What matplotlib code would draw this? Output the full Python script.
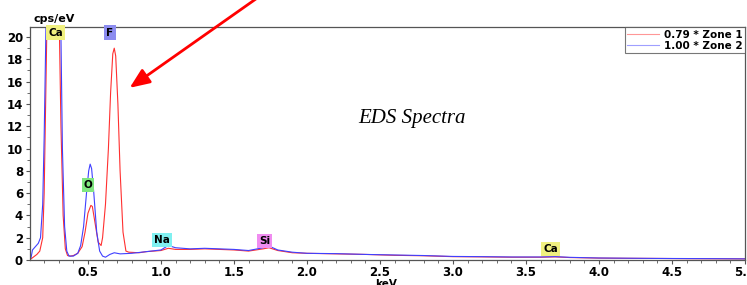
import numpy as np
import matplotlib.pyplot as plt
from matplotlib.ticker import MultipleLocator

# spectrum values (keV, cps/eV)
zone1_kev = [0.11, 0.13, 0.15, 0.17, 0.19, 0.20, 0.21, 0.22, 0.24, 0.27, 0.29, 0.305, 0.315,
             0.33, 0.345, 0.36, 0.38, 0.40, 0.43, 0.46, 0.48, 0.50, 0.52, 0.53, 0.55, 0.57,
             0.59, 0.60, 0.62, 0.64, 0.655, 0.67, 0.68, 0.69, 0.705, 0.72, 0.74, 0.76, 0.78,
             0.85, 0.90, 1.00, 1.05, 1.10, 1.20, 1.30, 1.40, 1.50, 1.60, 1.70, 1.74, 1.80,
             1.90, 2.00, 2.20, 2.40, 2.60, 2.80, 3.00, 3.20, 3.40, 3.60, 3.70, 3.80, 4.00,
             4.20, 4.40, 4.60, 4.80, 5.00]
zone1_cps = [0.1, 0.3, 0.5, 0.8, 2.0, 6.0, 14.0, 22.0, 28.0, 30.0, 26.0, 20.0, 12.0,
             4.0, 1.0, 0.4, 0.35, 0.4, 0.6, 1.2, 2.5, 4.2, 4.9, 4.8, 3.2, 1.6,
             1.3, 2.0, 5.0, 10.0, 15.0, 18.5, 19.0, 18.3, 14.0, 8.0, 2.5, 0.8, 0.7,
             0.65, 0.75, 0.85, 1.05, 0.95, 0.95, 1.0, 0.95, 0.9, 0.8, 1.0, 1.1, 0.85,
             0.65, 0.6, 0.55, 0.5, 0.42, 0.38, 0.3, 0.28, 0.25, 0.25, 0.28, 0.22, 0.17,
             0.15, 0.14, 0.12, 0.11, 0.1]

zone2_kev = [0.11, 0.12, 0.14, 0.16, 0.175, 0.19, 0.20, 0.21, 0.215, 0.24, 0.27, 0.30,
             0.315, 0.325, 0.34, 0.355, 0.37, 0.40, 0.43, 0.45, 0.47, 0.49, 0.505, 0.515,
             0.525, 0.54, 0.56, 0.58, 0.60, 0.62, 0.65, 0.68, 0.72, 0.80, 0.90, 1.00, 1.05,
             1.10, 1.20, 1.30, 1.40, 1.50, 1.60, 1.70, 1.74, 1.80, 1.90, 2.00, 2.20, 2.40,
             2.60, 2.80, 3.00, 3.20, 3.40, 3.60, 3.70, 3.80, 4.00, 4.20, 4.40, 4.60, 4.80,
             5.00]
zone2_cps = [0.2, 0.9, 1.2, 1.5, 2.0, 5.0, 11.0, 19.0, 24.0, 30.0, 30.0, 26.0,
             20.0, 10.0, 3.0, 0.8, 0.35, 0.35, 0.6, 1.3, 3.0, 6.0, 8.0, 8.6,
             8.2, 6.0, 2.5, 0.8, 0.35, 0.25, 0.5, 0.65, 0.55, 0.6, 0.75, 0.9, 1.3,
             1.1, 1.0, 1.05, 1.0, 0.95, 0.85, 1.1, 1.25, 0.9, 0.7, 0.6, 0.57, 0.5,
             0.45, 0.4, 0.32, 0.3, 0.27, 0.27, 0.3, 0.24, 0.18, 0.16, 0.14, 0.13, 0.12,
             0.1]

# element markers
elements = ['Ca', 'F', 'O', 'Na', 'Si', 'Ca']
element_kev = [0.28, 0.65, 0.50, 1.01, 1.71, 3.67]
element_y = [20.4, 20.4, 6.75, 1.8, 1.7, 1.0]
element_colors = ['#f0f080', '#8c8cf0', '#80e680', '#80f0f0', '#f08cf0', '#f0f080']

fig = plt.figure(figsize=(7.47, 2.85), dpi=100)
ax = fig.add_axes([30 / 747, 25 / 285, 715 / 747, 233 / 285])

ax.plot(zone1_kev, zone1_cps, color='#ff3030', lw=0.8, label='0.79 * Zone 1')
ax.plot(zone2_kev, zone2_cps, color='#4040ff', lw=0.8, label='1.00 * Zone 2')

ax.set_xlim(0.103, 5.0)
ax.set_ylim(0, 20.9)
ax.xaxis.set_major_locator(MultipleLocator(0.5))
ax.xaxis.set_minor_locator(MultipleLocator(0.1))
ax.yaxis.set_major_locator(MultipleLocator(2))
ax.yaxis.set_minor_locator(MultipleLocator(1))
ax.tick_params(which='major', length=3, width=0.8, color='#555555', labelsize=8.5, pad=2)
ax.tick_params(axis='x', which='major', pad=1)
ax.tick_params(which='minor', length=2, width=0.6, color='#555555')
for lab in ax.get_xticklabels() + ax.get_yticklabels():
    lab.set_fontweight('bold')
for s in ax.spines.values():
    s.set_color('#555555')
    s.set_linewidth(0.9)

for name, x, y, c in zip(elements, element_kev, element_y, element_colors):
    ax.text(x, y, name, ha='center', va='center', fontsize=7.5, fontweight='bold',
            bbox=dict(boxstyle='square,pad=0.2', fc=c, ec='none'))

ax.text(2.72, 12.7, 'EDS Spectra', fontsize=15, family='Liberation Serif',
        style='italic', ha='center', va='center')

ax.annotate('', xy=(0.77, 15.3), xytext=(1.67, 23.6), annotation_clip=False,
            arrowprops=dict(arrowstyle='-|>,head_width=0.5,head_length=1.2',
                            color='#ff0000', lw=2))

leg = ax.legend(loc='upper right', prop={'weight': 'bold', 'size': 7.5},
                frameon=True, fancybox=False, borderpad=0.25, handlelength=3,
                handletextpad=0.5, labelspacing=0.1, borderaxespad=0)
leg.get_frame().set_edgecolor('#555555')
leg.get_frame().set_linewidth(0.8)
for line in leg.get_lines():
    line.set_alpha(0.5)

fig.text(33 / 747, 1 - 19 / 285, 'cps/eV', fontsize=8, fontweight='bold', va='center')
fig.text(386 / 747, 1 - 284 / 285, 'keV', fontsize=7.5, fontweight='bold',
         ha='center', va='center')

fig.savefig('out.png', dpi=100)
